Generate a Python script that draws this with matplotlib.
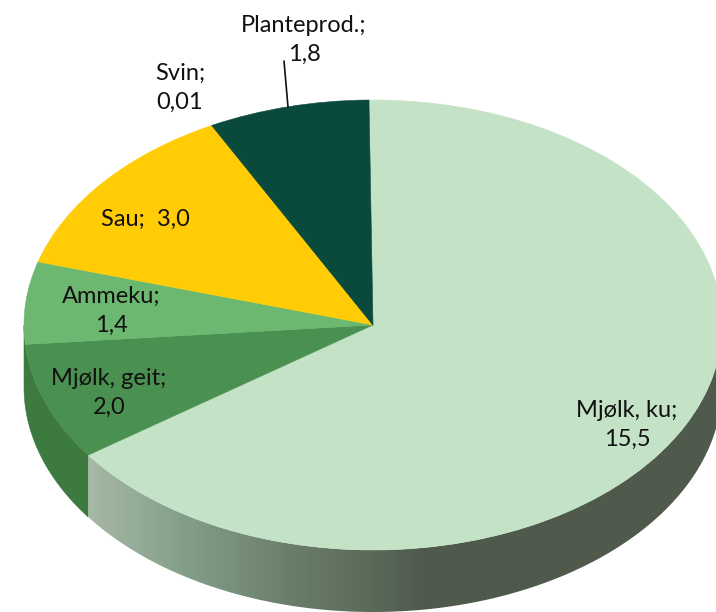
import numpy as np
import matplotlib
matplotlib.use('Agg')
import matplotlib.pyplot as plt
from matplotlib.colors import LinearSegmentedColormap
from matplotlib.patches import Polygon

names = ['Mjølk, ku;', 'Mjølk, geit;', 'Ammeku;', 'Sau;', 'Svin;', 'Planteprod.;']
values = [15.5, 2.0, 1.4, 3.04, 0.01, 1.76]
value_labels = ['15,5', '2,0', '1,4', '3,0', '0,01', '1,8']
colors = ['#c3e2c6', '#4a9050', '#6cb870', '#ffcc05', '#0a4a3c', '#0a4a3c']

W, H = 716, 612
CX, CY, RX, RY = 373, 325, 349, 225
DEPTH = 62
START = 90.66

plt.rcParams['font.family'] = ['Lato', 'DejaVu Sans']


# picture pixels -> pie data units
def px(x, y):
    return (x - CX) / RX, (CY - y) / RY


fig = plt.figure(figsize=(W / 100, H / 100), dpi=100)
ax = fig.add_axes([0, 0, 1, 1])

wedges = ax.pie(values, colors=colors, startangle=START, counterclock=False, radius=1)[0]
for w in wedges:
    w.set_edgecolor(w.get_facecolor())
    w.set_linewidth(0.4)
    w.set_zorder(3)
ax.set_aspect('auto')
x0, y1 = px(0, 0)
x1, y0 = px(W, H)
ax.set_xlim(x0, x1)
ax.set_ylim(y0, y1)
ax.axis('off')

# side wall, angle from the top going clockwise
d = DEPTH / RY
ends = np.cumsum(values) / np.sum(values) * 360 + (90 - START)


def wall(a, b):
    t = np.radians(np.linspace(a, b, 200))
    xs = np.sin(t)
    ys = np.cos(t)
    return np.r_[np.c_[xs, ys], np.c_[xs, ys - d][::-1]]


ax.add_patch(Polygon(wall(ends[0], 270), closed=True, fc='#3c7a40', ec='#3c7a40', lw=0.4, zorder=1))

# gradient for the big slice side
stops = [(0, '#a6b8a6'), (0.146, '#85a08a'), (0.338, '#687a68'), (0.45, '#5a6b5a'),
         (0.53, '#4f5a4c'), (1, '#4f5a4c')]
cmap = LinearSegmentedColormap.from_list('side', stops)
ku_wall = Polygon(wall(90, ends[0]), closed=True, fc='none', ec='none', transform=ax.transData)
ax.add_patch(ku_wall)
xl, _ = px(88, 0)
grad = np.linspace(0, 1, 512).reshape(1, -1)
im = ax.imshow(grad, cmap=cmap, extent=(xl, x1, y0, y1), aspect='auto', zorder=1)
im.set_clip_path(ku_wall)
ax.set_xlim(x0, x1)
ax.set_ylim(y0, y1)

# labels, pixel centres
label_pos = [(627, 425), (109, 393), (111, 311), (145, 219), (180, 88), (304, 40)]
for i in range(len(names)):
    if names[i] == 'Sau;':
        s = names[i] + '  ' + value_labels[i]
    else:
        s = names[i] + '\n' + value_labels[i]
    x, y = px(*label_pos[i])
    ax.text(x, y, s, ha='center', va='center', fontsize=17, color='#111111',
            linespacing=1.5, zorder=5)

# leader line for Planteprod.
ax.annotate('', xy=px(288, 107), xytext=px(284, 61),
            arrowprops={'arrowstyle': '-', 'color': '#111111', 'lw': 1.2, 'shrinkA': 0, 'shrinkB': 0},
            zorder=5)

fig.savefig('out.png', dpi=100)
